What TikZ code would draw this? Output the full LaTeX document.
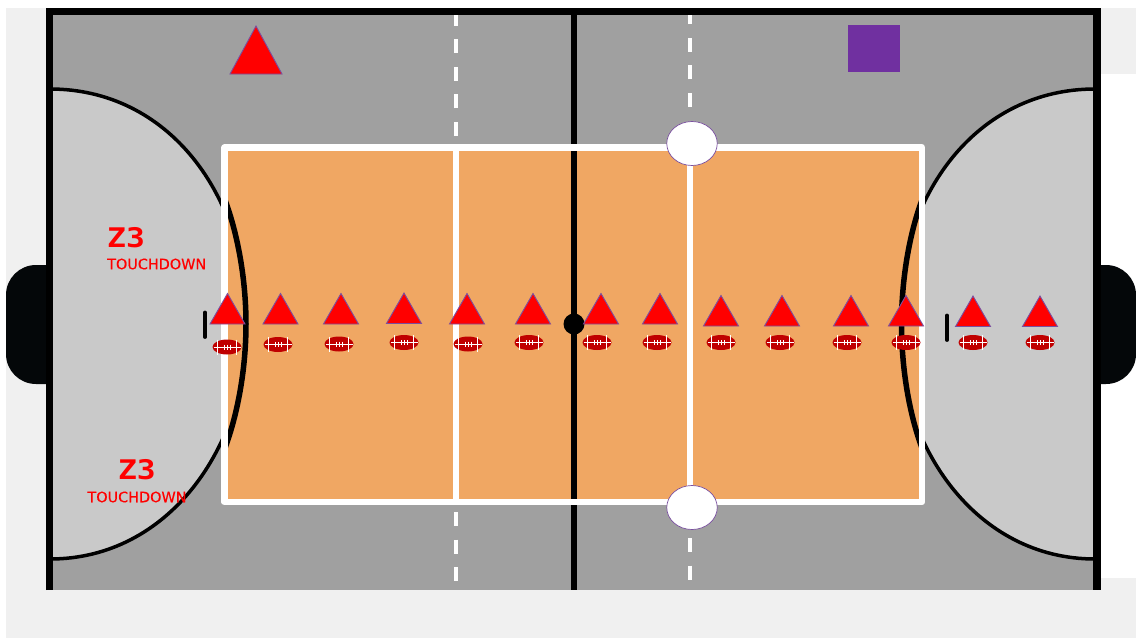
\documentclass[tikz,border=0pt]{standalone}
\usepackage{fontspec}
\setmainfont{DejaVu Sans}
\newfontfamily\zfont{DejaVu Sans Mono Bold}[FakeStretch=1.16]
\newfontfamily\tdfont{DejaVu Sans}[FakeBold=0.35]
\usetikzlibrary{shapes.geometric}
\definecolor{fieldgray}{HTML}{A0A0A0}
\definecolor{zonegray}{HTML}{C9C9C9}
\definecolor{pagegray}{HTML}{F0F0F0}
\definecolor{courtorange}{HTML}{F0A763}
\definecolor{ballred}{HTML}{C00000}
\definecolor{edgepurple}{HTML}{7A4FA0}
\definecolor{squarepurple}{HTML}{7030A0}
\definecolor{tabblack}{HTML}{040709}
\tikzset{
  cone/.style={fill=red,draw=edgepurple,line width=0.9pt,line join=miter},
  ballbody/.style={ellipse,fill=ballred,minimum width=29pt,minimum height=15pt,inner sep=0pt,draw=none},
  courtline/.style={draw=white,line width=6.5pt},
  dashline/.style={draw=white,line width=3.5pt,dash pattern=on 14pt off 13.6pt},
  pole/.style={draw=black,line width=3.8pt,line cap=round},
  zonearc/.style={draw=black,line width=3.5pt},
  goal/.style={ellipse,fill=white,draw=edgepurple,line width=0.7pt,minimum width=50.5pt,minimum height=44pt,inner sep=0pt},
  zlabel/.style={text=red,font=\zfont\fontsize{27}{27}\selectfont,inner sep=0pt},
  tdlabel/.style={text=red,font=\tdfont\fontsize{14.4}{15}\selectfont,inner sep=0pt},
  pics/football/.style={code={
    \node[ballbody] at (0,0) {};
    \draw[white,line width=0.6pt] (-13.5,0) -- (13.5,0);
    \draw[white,line width=1pt] (-9.5,-7.5) -- (-9.5,7.5) (9.5,-7.5) -- (9.5,7.5);
    \draw[white,line width=0.7pt] (-3,-2.5) -- (-3,2.5) (0,-2.5) -- (0,2.5) (3,-2.5) -- (3,2.5);
  }},
}
\newcommand{\conept}[2]{\draw[cone] (#1,#2) -- (#1+17.5,#2+30.5) -- (#1-17.5,#2+30.5) -- cycle;}
\newcommand{\leftcurve}{(50,89) .. controls (168,89) and (247,194) .. (247,324) .. controls (247,448) and (168,559) .. (50,559)}
\newcommand{\rightcurve}{(1095,89) .. controls (977,89) and (898,194) .. (898,324) .. controls (898,448) and (977,559) .. (1095,559)}
\begin{document}
\begin{tikzpicture}[x=1pt,y=-1pt]
\useasboundingbox (0,0) rectangle (1136,638);
% page
\fill[white] (0,0) rectangle (1136,638);
\fill[pagegray] (6,8) rectangle (46,590);
\fill[pagegray] (1101,8) rectangle (1136,74);
\fill[pagegray] (1101,578) rectangle (1136,590);
\fill[pagegray] (6,590) rectangle (1136,638);
% side tabs
\fill[tabblack] (46,265) -- (36,265) arc[start angle=-90,end angle=-180,radius=30] -- (6,354) arc[start angle=180,end angle=90,radius=30] -- (46,384) -- cycle;
\fill[tabblack] (1100,265) -- (1106,265) arc[start angle=-90,end angle=0,radius=30] -- (1136,354) arc[start angle=0,end angle=90,radius=30] -- (1100,384) -- cycle;
% field
\fill[fieldgray] (49,11) rectangle (1098,590);
% touchdown zones
\filldraw[fill=zonegray,zonearc] \leftcurve -- cycle;
\filldraw[fill=zonegray,zonearc] \rightcurve -- cycle;
% court
\fill[courtorange] (224.5,147.5) rectangle (922,502);
\begin{scope}
\clip (224.5,147.5) rectangle (922,502);
\draw[black,line width=5.5pt] (225,200) .. controls (238,235) and (246,280) .. (246,324) .. controls (246,368) and (238,413) .. (225,448);
\draw[black,line width=5.5pt] (922,200) .. controls (909,235) and (901.5,280) .. (901.5,324) .. controls (901.5,368) and (909,413) .. (922,448);
\end{scope}
% dashes
\draw[dashline] (456,136) -- (456,12);
\draw[dashline] (456,512) -- (456,582);
\draw[dashline] (690,107) -- (690,12);
\draw[dashline] (690,538) -- (690,582);
% court lines
\draw[black,line width=6pt] (574,12) -- (574,590);
\draw[courtline] (456,147.5) -- (456,502);
\draw[courtline] (690,147.5) -- (690,502);
\draw[courtline,line join=round] (224.5,147.5) rectangle (922,502);
% border
\draw[black,line width=6.8pt] (49.3,590) -- (49.3,11.5) -- (1097,11.5);
\draw[black,line width=8pt] (1097,8) -- (1097,590);
% centre and goals
\node[circle,fill=black,minimum size=21pt,inner sep=0pt] (centre) at (574,324) {};
\node[goal] (goaltop) at (692,143.5) {};
\node[goal] (goalbot) at (692,507.5) {};
% top markers
\draw[cone] (256,26) -- (282,74) -- (230,74) -- cycle;
\node[fill=squarepurple,minimum width=52pt,minimum height=47pt,inner sep=0pt] (square) at (874,48.5) {};
% poles
\draw[pole] (205,312.5) -- (205,337);
\draw[pole] (947,315.5) -- (947,340);
% cones
\conept{227.5}{293.5}
\conept{280.5}{293.5}
\conept{341}{293.5}
\conept{404}{293}
\conept{467}{293.5}
\conept{533}{293.5}
\conept{601}{293.5}
\conept{660}{293.5}
\conept{721}{295.5}
\conept{782}{295.5}
\conept{851}{295.5}
\conept{906}{295.5}
\conept{973}{296}
\conept{1040}{296}
% footballs
\foreach \x/\y in {227/347,278/344.5,339/344,404/342.5,468/344,529/342.5,597/342.5,657/342.5,721/342.5,780/342.5,847/342.5,906/342.5,973/342.5,1040/342.5}
  \pic at (\x,\y) {football};
% labels
\node[zlabel,anchor=west] (z1) at (107,238) {Z3};
\node[tdlabel,anchor=west] (t1) at (107,264) {TOUCHDOWN};
\node[zlabel,anchor=center] (z2) at (137,470) {Z3};
\node[tdlabel,anchor=center] (t2) at (137,497) {TOUCHDOWN};
\end{tikzpicture}
\end{document}
